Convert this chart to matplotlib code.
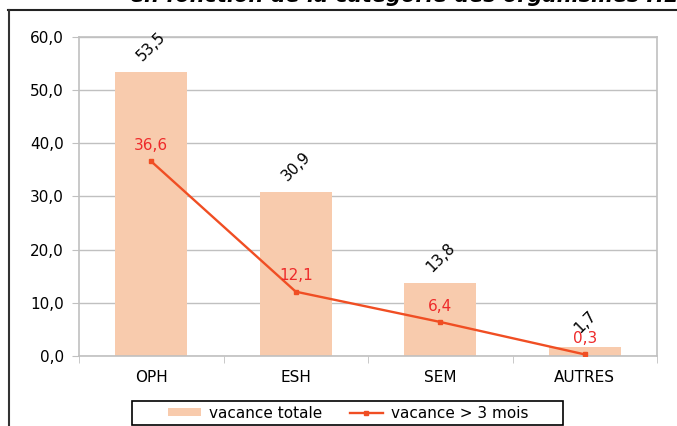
import matplotlib.pyplot as plt
import numpy as np
from matplotlib.lines import Line2D
from matplotlib.patches import Rectangle

plt.rcParams['font.family'] = ['DejaVu Sans']

categories = ['OPH', 'ESH', 'SEM', 'AUTRES']
vacance_totale = [53.5, 30.9, 13.8, 1.7]
vacance_3mois = [36.6, 12.1, 6.4, 0.3]
bar_color = '#f8cbad'
line_color = '#f04e23'
grid_color = '#c0c0c0'


def fr(v):
    return ('%.1f' % v).replace('.', ',')


fig = plt.figure(figsize=(6.77, 4.26), dpi=100)
ax = fig.add_axes([79 / 677, 1 - 356 / 426, 578 / 677, 319 / 426])

x = np.arange(len(categories))
bars = ax.bar(x, vacance_totale, width=0.5, color=bar_color, label='vacance totale', zorder=2)
line, = ax.plot(x, vacance_3mois, color=line_color, lw=1.7, marker='s', ms=2.5,
                label='vacance > 3 mois', zorder=3)

for xi, v in zip(x, vacance_totale):
    ax.annotate(fr(v), (xi, v), xytext=(0, 18), textcoords='offset points',
                ha='center', va='center', rotation=45, fontsize=11, color='black')
for xi, v in zip(x, vacance_3mois):
    ax.annotate(fr(v), (xi, v), xytext=(0, 11.5), textcoords='offset points',
                ha='center', va='center', fontsize=11, color='#ee2a2a')

ax.set_xlim(-0.5, len(categories) - 0.5)
ax.set_ylim(0, 60)
ax.set_yticks(np.arange(0, 61, 10))
ax.set_yticklabels([fr(v) for v in np.arange(0, 61, 10)], fontsize=11)
ax.set_xticks(x)
ax.set_xticklabels(categories, fontsize=11)
ax.set_xticks(np.arange(-0.5, len(categories), 1), minor=True)
ax.tick_params(axis='x', which='major', length=0, pad=10)
ax.tick_params(axis='x', which='minor', length=5, color=grid_color)
ax.tick_params(axis='y', length=5, color=grid_color, pad=6)
ax.grid(axis='y', color=grid_color, lw=1, zorder=0)
ax.set_axisbelow(True)
for s in ax.spines.values():
    s.set_color(grid_color)
    s.set_linewidth(1.2)

# legend without its own frame, boxed by a wider rectangle like the original
leg = fig.legend([bars, line], ['vacance totale', 'vacance > 3 mois'],
                 loc='center', bbox_to_anchor=(348 / 677, 1 - 413 / 426), ncol=2,
                 fontsize=11, frameon=False,
                 handlelength=2.2, handleheight=0.5, handletextpad=0.5,
                 columnspacing=1.8, borderpad=0, borderaxespad=0)
fig.add_artist(Rectangle((132 / 677, 1 - 425 / 426), 431 / 677, 24 / 426,
                         transform=fig.transFigure, fill=False,
                         edgecolor='black', lw=1.2))

# frame lines of the surrounding document
fig.add_artist(Line2D([8 / 677, 1], [1 - 10 / 426, 1 - 10 / 426], color='#222222', lw=1.5,
                      transform=fig.transFigure))
fig.add_artist(Line2D([9 / 677, 9 / 677], [0, 1 - 10 / 426], color='#333333', lw=1.5,
                      transform=fig.transFigure))
fig.text(130 / 677, 1 - 2.5 / 426, 'en fonction de la catégorie des organismes HLM',
         fontsize=15, fontweight='bold', fontstyle='italic', va='baseline', ha='left')

fig.savefig('out.png', dpi=100)
